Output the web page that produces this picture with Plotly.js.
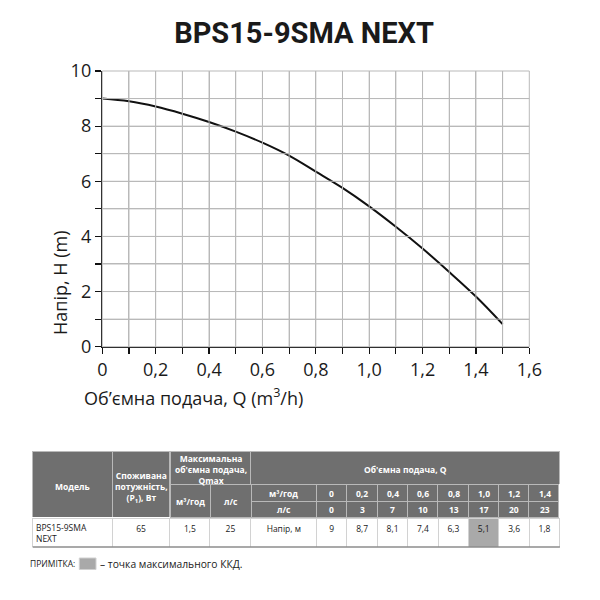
<!DOCTYPE html>
<html><head><meta charset="utf-8">
<script src="https://cdn.plot.ly/plotly-3.0.1.min.js"></script>
<style>html,body{margin:0;padding:0;background:#fff}#chart{width:600px;height:600px}</style>
</head><body><div id="chart"></div>
<script>
// ---- chart data ----
const curveQ = [0, 0.1, 0.2, 0.3, 0.4, 0.5, 0.6, 0.7, 0.8, 0.9, 1.0, 1.1, 1.2, 1.3, 1.4, 1.5];
const curveH = [9.0, 8.90, 8.71, 8.45, 8.15, 7.80, 7.40, 6.93, 6.35, 5.76, 5.09, 4.35, 3.56, 2.71, 1.82, 0.82];
const xTickVals = [0, 0.1, 0.2, 0.3, 0.4, 0.5, 0.6, 0.7, 0.8, 0.9, 1.0, 1.1, 1.2, 1.3, 1.4, 1.5, 1.6];
const xTickText = ['0', '', '0,2', '', '0,4', '', '0,6', '', '0,8', '', '1,0', '', '1,2', '', '1,4', '', '1,6'];
const yTickVals = [0, 1, 2, 3, 4, 5, 6, 7, 8, 9, 10];
const yTickText = ['0', '', '2', '', '4', '', '6', '', '8', '', '10'];
const chartTitle = 'BPS15-9SMA NEXT';
const xTitle = 'Об’ємна подача, Q (m<sup>3</sup>/h)';
const yTitle = 'Напір, H (m)';

// ---- table data ----
const hdrModel = 'Модель';
const hdrPower = 'Споживана<br>потужність,<br>(P<sub>1</sub>), Вт';
const hdrQmax = 'Максимальна<br>об\'ємна подача,<br>Qmax';
const hdrQ = 'Об\'ємна подача, Q';
const unitM3 = 'м³/год';
const unitLs = 'л/с';
const headLabel = 'Напір, м';
const tblModel = 'BPS15-9SMA<br>NEXT';
const tblPower = '65';
const tblQmaxM3 = '1,5';
const tblQmaxLs = '25';
const tblQm3 = ['0', '0,2', '0,4', '0,6', '0,8', '1,0', '1,2', '1,4'];
const tblQls = ['0', '3', '7', '10', '13', '17', '20', '23'];
const tblHead = ['9', '8,7', '8,1', '7,4', '6,3', '5,1', '3,6', '1,8'];
const bestIdx = 5;
const noteLabel = 'ПРИМІТКА:';
const noteText = '– точка максимального ККД.';

// ---- layout helpers (pixels -> paper) ----
const PX = p => p / 600;
const PY = p => 1 - p / 600;
const dom = (x0, x1, y0, y1) => ({x: [PX(x0), PX(x1)], y: [PY(y1), PY(y0)]});

const HDR = '#6f6f6f', HLINE = '#b9b9b9', DLINE = '#d2d2d2', BEST = '#a9a9a9', GRID = '#b9b9b9', INK = '#1a1a1a';
const TF = 'Open Sans, sans-serif';
const colX = [32.7, 112.3, 170, 210, 251, 316.7];
const numW = 30.4;
const tEnd = colX[5] + numW * 8;
const rowY = [451, 484.5, 501.5, 518, 547];
const b = s => '<b>' + s + '</b>';
const hdrFill = {color: HDR}, hdrLine = {color: HLINE, width: 1};
const blankHdr = n => Array.from({length: n}, () => ['']);
const xRange = [xTickVals[0], xTickVals[xTickVals.length - 1]];
const yRange = [yTickVals[0], yTickVals[yTickVals.length - 1]];
const xDom = [PX(102.3), PX(529.3)];
const yDom = [PY(346.7), PY(71)];
// axis scale mappings (value -> paper fraction)
const xScale = v => xDom[0] + (v - xRange[0]) / (xRange[1] - xRange[0]) * (xDom[1] - xDom[0]);
const yScale = v => yDom[0] + (v - yRange[0]) / (yRange[1] - yRange[0]) * (yDom[1] - yDom[0]);

const traces = [];
traces.push({
  type: 'scatter', mode: 'lines', x: curveQ, y: curveH,
  line: {color: '#111111', width: 2, shape: 'spline', smoothing: 1},
  hoverinfo: 'skip', showlegend: false
});
// header cells (text placed by annotations below, centered in merged cells)
traces.push({
  type: 'table', domain: dom(colX[0], colX[2], rowY[0], rowY[3]),
  columnwidth: [colX[1] - colX[0], colX[2] - colX[1]],
  header: {values: blankHdr(2), height: rowY[3] - rowY[0], fill: hdrFill, line: hdrLine},
  cells: {values: []}
});
traces.push({
  type: 'table', domain: dom(colX[2], tEnd, rowY[0], rowY[1]),
  columnwidth: [colX[4] - colX[2], tEnd - colX[4]],
  header: {values: blankHdr(2), height: rowY[1] - rowY[0], fill: hdrFill, line: hdrLine},
  cells: {values: []}
});
traces.push({
  type: 'table', domain: dom(colX[2], colX[4], rowY[1], rowY[3]),
  columnwidth: [colX[3] - colX[2], colX[4] - colX[3]],
  header: {values: blankHdr(2), height: rowY[3] - rowY[1], fill: hdrFill, line: hdrLine},
  cells: {values: []}
});
traces.push({
  type: 'table', domain: dom(colX[4], tEnd, rowY[1], rowY[3]),
  columnwidth: [colX[5] - colX[4]].concat(tblQm3.map(() => numW)),
  header: {values: Array.from({length: tblQm3.length + 1}, () => ['', '']), height: (rowY[3] - rowY[1]) / 2, fill: hdrFill, line: hdrLine},
  cells: {values: []}
});
// data row
const dVals = [[''], [tblPower], [tblQmaxM3], [tblQmaxLs], [headLabel]].concat(tblHead.map(v => [v]));
const dFill = dVals.map((v, i) => (i - 5 === bestIdx ? BEST : '#ffffff'));
traces.push({
  type: 'table', domain: dom(colX[0], tEnd, rowY[3], rowY[4]),
  columnwidth: [colX[1] - colX[0], colX[2] - colX[1], colX[3] - colX[2], colX[4] - colX[3], colX[5] - colX[4]].concat(tblHead.map(() => numW)),
  header: {values: dVals, height: rowY[4] - rowY[3], align: 'center',
           fill: {color: dFill}, line: {color: DLINE, width: 1}, font: {family: TF, size: 8.5, color: INK}},
  cells: {values: []}
});

// header texts
const hf = {family: TF, size: 8.5, color: '#ffffff'};
const ann = (text, x, y, font, extra) => Object.assign({text: text, xref: 'paper', yref: 'paper', x: PX(x), y: PY(y),
  xanchor: 'center', yanchor: 'middle', showarrow: false, font: font}, extra || {});
const rowMid = i => (rowY[i] + rowY[i + 1]) / 2;
const annotations = [
  ann(xTitle, 82, 397, {family: TF, size: 18, color: INK}, {xanchor: 'left'}),
  ann(yTitle, 60, 283, {family: TF, size: 18, color: INK}, {textangle: -90}),
  ann(b(hdrModel), (colX[0] + colX[1]) / 2, 486.5, hf),
  ann(b(hdrPower), (colX[1] + colX[2]) / 2, 487.5, hf),
  ann(b(hdrQmax), (colX[2] + colX[4]) / 2, 469, hf),
  ann(b(hdrQ), (colX[4] + tEnd) / 2, 469, hf),
  ann(b(unitM3), (colX[2] + colX[3]) / 2, (rowY[1] + rowY[3]) / 2, hf),
  ann(b(unitLs), (colX[3] + colX[4]) / 2, (rowY[1] + rowY[3]) / 2, hf),
  ann(b(unitM3), (colX[4] + colX[5]) / 2, rowMid(1), hf),
  ann(b(unitLs), (colX[4] + colX[5]) / 2, rowMid(2), hf),
  ann(tblModel, 34, 532.5, {family: TF, size: 8.5, color: INK}, {xanchor: 'left', align: 'left'}),
  ann(noteLabel, 77, 563.5, {family: TF, size: 8.5, color: INK}, {xanchor: 'right'}),
  ann(noteText, 97.5, 563.5, {family: TF, size: 10.3, color: INK}, {xanchor: 'left'})
];
for (let i = 0; i < tblQm3.length; i++) {
  const cx = colX[5] + numW * (i + 0.5);
  annotations.push(ann(b(tblQm3[i]), cx, rowMid(1), hf));
  annotations.push(ann(b(tblQls[i]), cx, rowMid(2), hf));
}

const shapes = [];
// grid through the axis scale mapping at every tick value
xTickVals.forEach(v => shapes.push({type: 'line', layer: 'above', xref: 'paper', yref: 'paper',
  x0: xScale(v), x1: xScale(v), y0: yDom[0], y1: yDom[1], line: {color: GRID, width: 1}}));
yTickVals.forEach(v => shapes.push({type: 'line', layer: 'above', xref: 'paper', yref: 'paper',
  x0: xDom[0], x1: xDom[1], y0: yScale(v), y1: yScale(v), line: {color: GRID, width: 1}}));
shapes.push({type: 'line', xref: 'paper', yref: 'paper', x0: PX(colX[0]), x1: PX(tEnd), y0: PY(rowY[4]), y1: PY(rowY[4]), line: {color: '#8c8c8c', width: 1.5}});
shapes.push({type: 'rect', xref: 'paper', yref: 'paper', x0: PX(79.3), x1: PX(96), y0: PY(569.5), y1: PY(558), fillcolor: BEST, line: {color: '#d0d0d0', width: 1}});

const axisCommon = {tickmode: 'array', ticks: 'outside', ticklen: 6, tickwidth: 1.2, tickcolor: '#111',
  showline: true, linecolor: '#111', linewidth: 1.5, zeroline: false, showgrid: true, gridcolor: GRID, gridwidth: 1,
  tickfont: {family: TF, size: 18, color: INK}, fixedrange: true};
const layout = {
  width: 600, height: 600,
  margin: {l: 0, r: 0, t: 0, b: 0},
  paper_bgcolor: '#ffffff', plot_bgcolor: '#ffffff',
  showlegend: false,
  title: {text: '<b>' + chartTitle + '</b>', x: PX(304), xanchor: 'center', y: PY(33), yanchor: 'middle',
          font: {family: 'Roboto, sans-serif', size: 29, color: INK}},
  xaxis: Object.assign({domain: xDom, range: xRange, tickvals: xTickVals, ticktext: xTickText}, axisCommon),
  yaxis: Object.assign({domain: yDom, range: yRange, tickvals: yTickVals, ticktext: yTickText}, axisCommon),
  annotations: annotations,
  shapes: shapes
};
Plotly.newPlot('chart', traces, layout, {displayModeBar: false, staticPlot: true});
</script></body></html>
